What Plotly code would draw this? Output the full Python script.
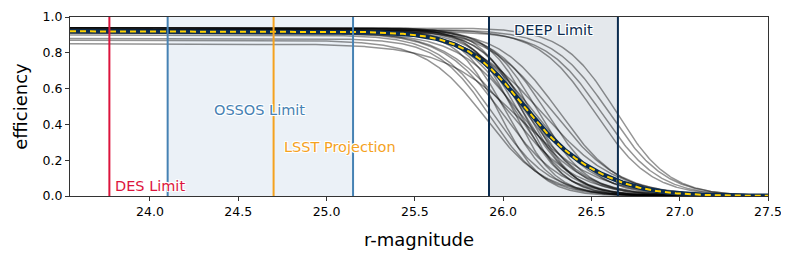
import numpy as np
import plotly.graph_objects as go

# ---- data ----
# logistic efficiency curves: plateau efficiency, 50% magnitude, transition width
plateau = [0.87, 0.88, 0.90, 0.92, 0.91, 0.93, 0.92, 0.94, 0.92, 0.93, 0.91, 0.94,
           0.92, 0.93, 0.92, 0.94, 0.93, 0.92, 0.94, 0.93, 0.92, 0.94, 0.93, 0.85,
           0.94, 0.93, 0.92, 0.93]
m50 = [25.90, 25.93, 25.95, 25.98, 26.00, 26.02, 26.04, 26.06, 26.08, 26.09, 26.10, 26.11,
       26.12, 26.13, 26.14, 26.15, 26.16, 26.18, 26.20, 26.22, 26.25, 26.28, 26.32, 26.10,
       26.64, 26.60, 26.56, 26.52]
width = [0.17, 0.15, 0.16, 0.12, 0.17, 0.13, 0.19, 0.12, 0.15, 0.13, 0.18, 0.12,
         0.14, 0.17, 0.13, 0.15, 0.12, 0.18, 0.14, 0.21, 0.15, 0.19, 0.17, 0.22,
         0.15, 0.16, 0.16, 0.16]

des_limit = 23.77
ossos_limits = [24.10, 25.15]
lsst_limit = 24.70
deep_limits = [25.92, 26.65]

x_range = [23.547, 27.5]
x_ticks = [24.0, 24.5, 25.0, 25.5, 26.0, 26.5, 27.0, 27.5]
y_ticks = [0.0, 0.2, 0.4, 0.6, 0.8, 1.0]

# ---- colours ----
c_des = "#dc143c"
c_ossos = "#4682b4"
c_lsst = "#f5a21e"
c_deep = "#0c2c4f"
c_gold = "#ffd100"

mag = np.linspace(x_range[0], x_range[1], 600)
curves = [p / (1 + np.exp((mag - m) / w)) for p, m, w in zip(plateau, m50, width)]
mean_curve = np.mean(curves, axis=0)

fig = go.Figure()

for cv in curves:
    fig.add_trace(go.Scatter(x=mag, y=cv, mode="lines",
                             line=dict(color="rgba(0,0,0,0.42)", width=1.5),
                             hoverinfo="skip", showlegend=False))

fig.add_trace(go.Scatter(x=mag, y=mean_curve, mode="lines",
                         line=dict(color=c_deep, width=4.5), showlegend=False))
fig.add_trace(go.Scatter(x=mag, y=mean_curve, mode="lines",
                         line=dict(color=c_gold, width=2, dash="6px,4px"), showlegend=False))

shapes = []
shapes.append(dict(type="rect", xref="x", yref="y", x0=ossos_limits[0], x1=ossos_limits[1],
                   y0=0, y1=1, fillcolor="rgba(70,130,180,0.11)", line=dict(width=0), layer="below"))
shapes.append(dict(type="rect", xref="x", yref="y", x0=deep_limits[0], x1=deep_limits[1],
                   y0=0, y1=1, fillcolor="rgba(12,44,79,0.11)", line=dict(width=0), layer="below"))
for xv, col in [(des_limit, c_des), (ossos_limits[0], c_ossos), (ossos_limits[1], c_ossos),
                (lsst_limit, c_lsst), (deep_limits[0], c_deep), (deep_limits[1], c_deep)]:
    shapes.append(dict(type="line", xref="x", yref="y", x0=xv, x1=xv, y0=0, y1=1,
                       line=dict(color=col, width=2), layer="above"))

outline = "-1px -1px 0 white, 1px -1px 0 white, -1px 1px 0 white, 1px 1px 0 white, 0 0 2px white"
ann_font = dict(family="DejaVu Sans", size=14.5)
annotations = [
    dict(x=des_limit, y=0.055, text="DES Limit", xanchor="left", yanchor="middle", xshift=4,
         showarrow=False, font=dict(**ann_font, color=c_des, shadow=outline)),
    dict(x=24.35, y=0.48, text="OSSOS Limit", xanchor="left", yanchor="middle",
         showarrow=False, font=dict(**ann_font, color=c_ossos, shadow=outline)),
    dict(x=24.75, y=0.275, text="LSST Projection", xanchor="left", yanchor="middle",
         showarrow=False, font=dict(**ann_font, color=c_lsst, shadow=outline)),
    dict(x=26.05, y=0.925, text="DEEP Limit", xanchor="left", yanchor="middle",
         showarrow=False, font=dict(**ann_font, color=c_deep, shadow=outline)),
]

# the page body adds an 8px margin, so the figure is sized to fit the window
fig.update_layout(
    width=781, height=250,
    margin=dict(l=62, r=21, t=9, b=62, autoexpand=False),
    paper_bgcolor="white", plot_bgcolor="white",
    font=dict(family="DejaVu Sans", color="black"),
    shapes=shapes, annotations=annotations,
    showlegend=False,
)
fig.update_xaxes(range=x_range, tickvals=x_ticks, ticktext=[f"{t:.1f}" for t in x_ticks],
                 showgrid=False, zeroline=False, showline=True, mirror=True, automargin=False,
                 ticklabeloverflow="allow",
                 linecolor="#333333", linewidth=1, ticks="outside", ticklen=4, tickcolor="#333333",
                 tickfont=dict(size=12.5),
                 title=dict(text="r-magnitude", font=dict(size=18), standoff=15))
fig.update_yaxes(range=[0, 1], tickvals=y_ticks, ticktext=[f"{t:.1f}" for t in y_ticks],
                 showgrid=False, zeroline=False, showline=True, mirror=True, automargin=False,
                 ticklabeloverflow="allow",
                 linecolor="#333333", linewidth=1, ticks="outside", ticklen=4, tickcolor="#333333",
                 tickfont=dict(size=12.5),
                 title=dict(text="efficiency", font=dict(size=18), standoff=10))

fig.write_html("out.html")
